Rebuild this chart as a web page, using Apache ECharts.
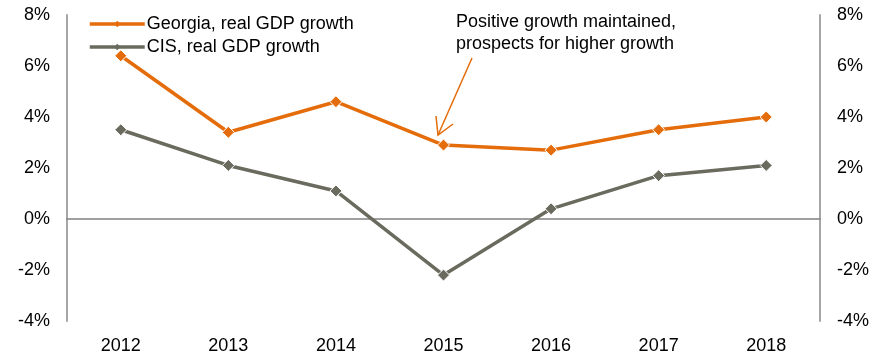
<!DOCTYPE html>
<html>
<head>
<meta charset="utf-8">
<script src="https://cdn.jsdelivr.net/npm/echarts@6/dist/echarts.min.js"></script>
<style>
html,body{margin:0;padding:0;background:#fff;}
#chart{width:883px;height:355px;}
</style>
</head>
<body>
<div id="chart"></div>
<script>
var years = ['2012','2013','2014','2015','2016','2017','2018'];
var georgiaGrowth = [6.4, 3.4, 4.6, 2.9, 2.7, 3.5, 4.0];
var cisGrowth = [3.5, 2.1, 1.1, -2.2, 0.4, 1.7, 2.1];
var seriesNames = ['Georgia, real GDP growth', 'CIS, real GDP growth'];
var annotationText = 'Positive growth maintained,\nprospects for higher growth';

var ORANGE = '#E46C0A';
var GRAY = '#6A6B5E';
var FONT = 'Liberation Sans, Arial, sans-serif';

var chart = echarts.init(document.getElementById('chart'));
var yAxisBase = {
  type: 'value', min: -4, max: 8, interval: 2,
  axisLine: { show: true, lineStyle: { color: '#A6A6A6', width: 2 } },
  axisTick: { show: false },
  splitLine: { show: false },
  axisLabel: { formatter: '{value}%', color: '#000', fontFamily: FONT, fontSize: 18, margin: 17 }
};
chart.setOption({
  animation: false,
  grid: { left: 67, right: 63, top: 15, bottom: 34 },
  legend: {
    orient: 'vertical', left: 83, top: 9, padding: 5,
    itemWidth: 55, itemHeight: 8, itemGap: 3,
    textStyle: { fontFamily: FONT, fontSize: 18, color: '#000', lineHeight: 20, padding: [0, 0, 0, -3] },
    data: [
      { name: seriesNames[0], lineStyle: { width: 3.5, color: ORANGE },
        itemStyle: { color: ORANGE, borderWidth: 0 } },
      { name: seriesNames[1], lineStyle: { width: 3.5, color: GRAY },
        itemStyle: { color: GRAY, borderWidth: 0 } }
    ]
  },
  xAxis: [{
    type: 'category', data: years,
    axisLine: { show: false, onZero: false },
    axisTick: { show: false },
    axisLabel: { color: '#000', fontFamily: FONT, fontSize: 18, margin: 16 }
  }, {
    type: 'category', data: years, position: 'bottom',
    axisLine: { show: true, onZero: true, lineStyle: { color: '#808080', width: 1.5 } },
    axisTick: { show: false },
    axisLabel: { show: false }
  }],
  yAxis: [Object.assign({}, yAxisBase, { position: 'left' }),
          Object.assign({}, yAxisBase, { position: 'right' })],
  series: [{
    name: seriesNames[0], type: 'line', data: georgiaGrowth,
    symbol: 'diamond', symbolSize: 12,
    lineStyle: { color: ORANGE, width: 3.5 },
    itemStyle: { color: ORANGE, borderColor: '#fff', borderWidth: 1 }
  }, {
    name: seriesNames[1], type: 'line', data: cisGrowth,
    symbol: 'diamond', symbolSize: 12,
    lineStyle: { color: GRAY, width: 3.5 },
    itemStyle: { color: GRAY, borderColor: '#fff', borderWidth: 1 }
  }],
  graphic: [{
    type: 'text', left: 456, top: 11,
    style: { text: annotationText, font: '18px ' + FONT, fill: '#000', lineHeight: 22 }
  }, {
    type: 'line', shape: { x1: 472, y1: 58, x2: 438, y2: 135 },
    style: { stroke: ORANGE, lineWidth: 1.5 }
  }, {
    type: 'polyline', shape: { points: [[436, 116], [438, 135], [453, 124]] },
    style: { stroke: ORANGE, lineWidth: 1.5, fill: null }
  }]
});
</script>
</body>
</html>
